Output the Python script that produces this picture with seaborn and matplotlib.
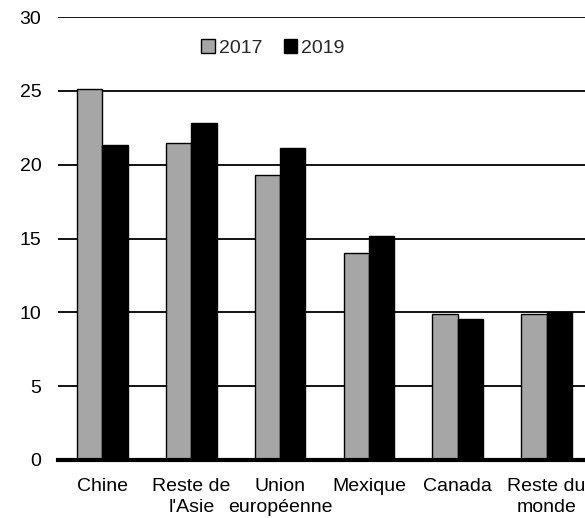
import pandas as pd
import seaborn as sns
import matplotlib.pyplot as plt

# données
categories = ["Chine", "Reste de\nl'Asie", "Union\neuropéenne", "Mexique", "Canada", "Reste du\nmonde"]
val_2017 = [25.1, 21.5, 19.3, 14.0, 9.9, 9.9]
val_2019 = [21.3, 22.8, 21.1, 15.2, 9.55, 10.0]
years = ["2017", "2019"]

df = pd.DataFrame({
    'cat': categories * 2,
    'annee': [years[0]] * len(categories) + [years[1]] * len(categories),
    'val': val_2017 + val_2019,
})

sns.set_style('white')
plt.rcParams['font.family'] = ['Liberation Sans', 'DejaVu Sans']
fs = 14

fig = plt.figure(figsize=(5.85, 5.18), dpi=100)
ax = fig.add_axes([58 / 585, 58 / 518, 533 / 585, 443 / 518])

sns.barplot(data=df, x='cat', y='val', hue='annee', order=categories,
            palette=['#a6a6a6', '#000000'], width=0.57, edgecolor='black',
            linewidth=1, ax=ax, zorder=3)

ax.set_ylim(0, 30)
ax.set_xlim(-0.5, len(categories) - 0.5)
ax.set_yticks(range(0, 31, 5))
ax.yaxis.grid(True, color='black', linewidth=1.3)
ax.set_axisbelow(True)
for s in ['top', 'right', 'left']:
    ax.spines[s].set_visible(False)
ax.spines['bottom'].set_linewidth(3)
ax.spines['bottom'].set_color('black')
ax.spines['bottom'].set_zorder(4)
ax.tick_params(axis='both', length=0, labelsize=fs, colors='black')
ax.tick_params(axis='y', pad=12)
ax.tick_params(axis='x', pad=13)
for t in ax.get_xticklabels():
    t.set_linespacing(1.3)
ax.set_xlabel('')
ax.set_ylabel('')

handles, labels = ax.get_legend_handles_labels()
ax.legend(handles, labels, loc='center', bbox_to_anchor=(273 / 585, 1 - 48 / 518),
          bbox_transform=fig.transFigure, ncol=2, frameon=False,
          handlelength=0.7, handleheight=0.7, handletextpad=0.2,
          columnspacing=1.1, fontsize=fs)

plt.savefig('out.png')
plt.close()
